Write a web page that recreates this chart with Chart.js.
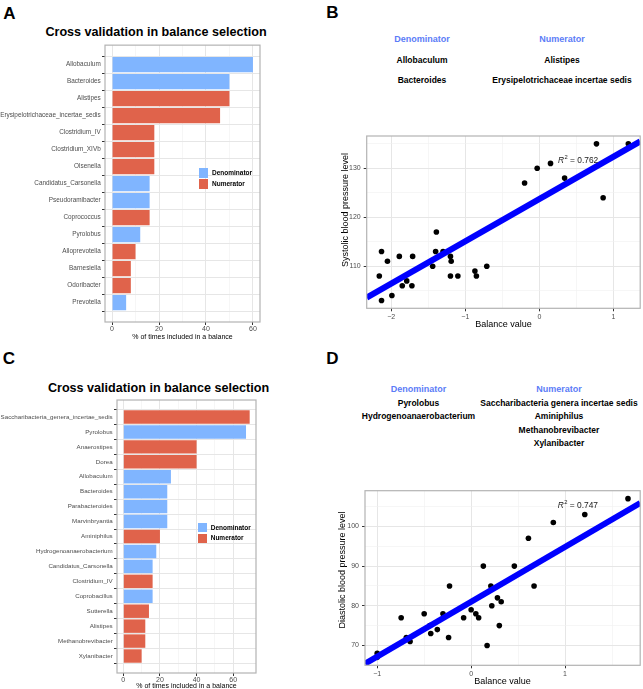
<!DOCTYPE html>
<html>
<head>
<meta charset="utf-8">
<script src="https://cdn.jsdelivr.net/npm/chart.js@4.4.1/dist/chart.umd.min.js"></script>
<style>
  html, body { margin: 0; padding: 0; background: #fff; }
  body { position: relative; width: 643px; height: 689px; overflow: hidden;
         font-family: 'Liberation Sans', Arial, Helvetica, sans-serif; color: #000; }
  canvas { position: absolute; }
  .t { position: absolute; transform: translate(-50%, -50%); white-space: nowrap; line-height: 1; }
  .l { position: absolute; transform: translate(0, -50%); white-space: nowrap; line-height: 1; }
  .key { position: absolute; width: 9.4px; height: 9.4px; }
</style>
</head>
<body>
<canvas id="chartA" width="270" height="302" style="left:0;top:40px"></canvas>
<canvas id="chartB" width="313" height="206" style="left:330px;top:125px"></canvas>
<canvas id="chartC" width="270" height="298" style="left:0;top:395px"></canvas>
<canvas id="chartD" width="313" height="208" style="left:330px;top:480px"></canvas>

<script>
// ---- panel A: cross validation, systolic model ----
const generaA = ['Allobaculum', 'Bacteroides', 'Alistipes', 'Erysipelotrichaceae_incertae_sedis',
  'Clostridium_IV', 'Clostridium_XIVb', 'Olsenella', 'Candidatus_Carsonella', 'Pseudoramibacter',
  'Coprococcus', 'Pyrolobus', 'Alloprevotella', 'Barnesiella', 'Odoribacter', 'Prevotella'];
const pctA = [60, 50, 50, 46, 18, 18, 18, 16, 16, 16, 12, 10, 8, 8, 6];
const sideA = ['D', 'D', 'N', 'N', 'N', 'N', 'N', 'D', 'D', 'N', 'D', 'N', 'N', 'N', 'D'];

// ---- panel C: cross validation, diastolic model ----
const generaC = ['Saccharibacteria_genera_incertae_sedis', 'Pyrolobus', 'Anaerostipes', 'Dorea',
  'Allobaculum', 'Bacteroides', 'Parabacteroides', 'Marvinbryantia', 'Aminiphilus',
  'Hydrogenoanaerobacterium', 'Candidatus_Carsonella', 'Clostridium_IV', 'Coprobacillus',
  'Sutterella', 'Alistipes', 'Methanobrevibacter', 'Xylanibacter'];
const pctC = [69, 67, 40, 40, 26, 24, 24, 24, 20, 18, 16, 16, 16, 14, 12, 12, 10];
const sideC = ['N', 'D', 'N', 'N', 'D', 'D', 'D', 'D', 'N', 'D', 'D', 'N', 'D', 'N', 'N', 'N', 'N'];

const pctMajor = [0, 20, 40, 60];
const pctMinor = [10, 30, 50];

// ---- panel B: balance vs systolic pressure ----
const balanceB = [-2.16, -2.13, -2.13, -2.05, -1.99, -1.89, -1.85, -1.79, -1.72, -1.71, -1.44, -1.39,
  -1.40, -1.30, -1.20, -1.19, -1.20, -1.10, -0.87, -0.85, -0.71, -0.20, -0.03, 0.15, 0.34, 0.77, 0.86, 1.20];
const sbpB = [108, 113, 103, 111, 104, 112, 106, 107, 106, 112, 110, 117,
  113, 113, 112, 111, 108, 108, 109, 108, 110, 127, 130, 131, 128, 135, 124, 135];
const fitXB = [-2.33, 1.36];
const fitYB = [103.6, 135.5];
const xTicksB = [-2, -1.5, -1, -0.5, 0, 0.5, 1];
const xMajorB = [-2, -1, 0, 1];
const yTicksB = [105, 110, 115, 120, 125, 130, 135];
const yMajorB = [110, 120, 130];
const denomB = ['Allobaculum', 'Bacteroides'];
const numerB = ['Alistipes', 'Erysipelotrichaceae incertae sedis'];

// ---- panel D: balance vs diastolic pressure ----
const balanceD = [-1.0, -1.0, -0.745, -0.69, -0.65, -0.50, -0.44, -0.43, -0.36, -0.30, -0.24, -0.23,
  -0.08, 0.0, 0.05, 0.08, 0.13, 0.17, 0.21, 0.22, 0.28, 0.30, 0.32, 0.46, 0.61, 0.67, 0.875, 1.21, 1.67];
const dbpD = [68, 67, 77, 72, 71, 78, 75, 73, 74, 78, 72, 85,
  77, 79, 78, 77, 90, 70, 85, 80, 82, 75, 81, 90, 97, 85, 101, 103, 107];
const fitXD = [-1.13, 1.80];
const fitYD = [65.4, 105.9];
const xTicksD = [-1, -0.5, 0, 0.5, 1, 1.5];
const xMajorD = [-1, 0, 1];
const yTicksD = [65, 70, 75, 80, 85, 90, 95, 100, 105];
const yMajorD = [70, 80, 90, 100];
const denomD = ['Pyrolobus', 'Hydrogenoanaerobacterium'];
const numerD = ['Saccharibacteria genera incertae sedis', 'Aminiphilus', 'Methanobrevibacter', 'Xylanibacter'];

const BLUE = '#80B5FF';
const RED = '#E0634B';
const HEAD = '#5B7CF7';
const GRID = '#E6E6E6';
const MINOR = '#F0F0F0';
const TICK = '#4D4D4D';
const FRAME = '#B3B3B3';
const FONT = "'Liberation Sans', Arial, Helvetica, sans-serif";

Chart.defaults.font.family = FONT;
Chart.defaults.animation = false;

// grey panel border like theme_bw
Chart.register({
  id: 'frame',
  afterDraw(chart) {
    const { ctx, chartArea: a } = chart;
    ctx.save();
    ctx.strokeStyle = FRAME;
    ctx.lineWidth = 1.2;
    ctx.strokeRect(a.left, a.top, a.right - a.left, a.bottom - a.top);
    ctx.restore();
  }
});

const minus = v => (v < 0 ? '\u2212' + Math.abs(v) : String(v));

function barChart(id, names, pct, side, pad, yWidth, titlePad, labelSize) {
  const top = Math.max(...pct);
  return new Chart(document.getElementById(id), {
    type: 'bar',
    data: {
      datasets: [{
        data: pct.map((v, i) => ({ x: v, y: i })),
        backgroundColor: side.map(s => (s === 'D' ? BLUE : RED)),
        borderWidth: 0,
        barPercentage: 0.9,
        categoryPercentage: 1
      }]
    },
    options: {
      indexAxis: 'y',
      responsive: false,
      devicePixelRatio: 1,
      layout: { padding: pad },
      plugins: { legend: { display: false }, tooltip: { enabled: false } },
      scales: {
        x: {
          type: 'linear', min: -top * 0.05, max: top * 1.05,
          afterBuildTicks: s => { s.ticks = pctMajor.concat(pctMinor).sort((a, b) => a - b).map(v => ({ value: v })); },
          afterFit: s => { s.height = 20; },
          ticks: { callback: v => (pctMajor.includes(v) ? String(v) : ''), color: TICK,
                   font: { size: 7 }, padding: 0, maxRotation: 0, autoSkip: false },
          grid: {
            color: c => (pctMajor.includes(c.tick.value) ? GRID : MINOR),
            lineWidth: c => (pctMajor.includes(c.tick.value) ? 1 : 0.6),
            tickLength: 3,
            tickColor: c => (pctMajor.includes(c.tick.value) ? '#333' : 'rgba(0,0,0,0)')
          },
          border: { display: false },
          title: { display: true, text: '% of times included in a balance', color: '#000',
                   font: { size: 7 }, padding: { top: 0, bottom: titlePad } }
        },
        y: {
          type: 'linear', reverse: true, min: -0.6, max: names.length - 0.4,
          afterBuildTicks: s => { s.ticks = names.map((n, i) => ({ value: i })); },
          afterFit: s => { s.width = yWidth; },
          ticks: { callback: v => names[v], color: TICK, font: { size: labelSize }, padding: 1.3, autoSkip: false },
          grid: { color: GRID, lineWidth: 1, tickLength: 3, tickColor: '#333' },
          border: { display: false }
        }
      }
    }
  });
}

function scatterChart(id, cfg) {
  const r2 = cfg.r2;
  return new Chart(document.getElementById(id), {
    type: 'scatter',
    data: {
      datasets: [
        {
          data: cfg.fitX.map((x, i) => ({ x, y: cfg.fitY[i] })),
          showLine: true, borderColor: '#0000FF', borderWidth: 6,
          pointRadius: 0, pointHoverRadius: 0
        },
        {
          data: cfg.xs.map((x, i) => ({ x, y: cfg.ys[i] })),
          pointRadius: 2.8, pointHoverRadius: 2.8,
          pointBackgroundColor: '#000', pointBorderWidth: 0
        }
      ]
    },
    options: {
      responsive: false,
      devicePixelRatio: 1,
      layout: { padding: cfg.pad },
      plugins: { legend: { display: false }, tooltip: { enabled: false } },
      scales: {
        x: {
          type: 'linear', min: cfg.xRange[0], max: cfg.xRange[1],
          afterBuildTicks: s => { s.ticks = cfg.xTicks.map(v => ({ value: v })); },
          afterFit: s => { s.height = cfg.xHeight; },
          ticks: { callback: v => (cfg.xMajor.includes(v) ? minus(v) : ''), color: TICK,
                   font: { size: 7 }, padding: 1.1, maxRotation: 0, autoSkip: false },
          grid: {
            color: c => (cfg.xMajor.includes(c.tick.value) ? GRID : MINOR),
            lineWidth: c => (cfg.xMajor.includes(c.tick.value) ? 1 : 0.6),
            tickLength: 3,
            tickColor: c => (cfg.xMajor.includes(c.tick.value) ? '#333' : 'rgba(0,0,0,0)')
          },
          border: { display: false },
          title: { display: true, text: 'Balance value', color: '#000',
                   font: { size: 9 }, padding: { top: 0, bottom: cfg.titlePad } }
        },
        y: {
          type: 'linear', min: cfg.yRange[0], max: cfg.yRange[1],
          afterBuildTicks: s => { s.ticks = cfg.yTicks.map(v => ({ value: v })); },
          afterFit: s => { s.width = cfg.yWidth; },
          ticks: { callback: v => (cfg.yMajor.includes(v) ? String(v) : ''), color: TICK,
                   font: { size: 7 }, padding: 3, autoSkip: false },
          grid: {
            color: c => (cfg.yMajor.includes(c.tick.value) ? GRID : MINOR),
            lineWidth: c => (cfg.yMajor.includes(c.tick.value) ? 1 : 0.6),
            tickLength: 3,
            tickColor: c => (cfg.yMajor.includes(c.tick.value) ? '#333' : 'rgba(0,0,0,0)')
          },
          border: { display: false }
        }
      }
    },
    plugins: [{
      id: 'r2label',
      afterDatasetsDraw(chart) {
        const { ctx, scales: { x, y } } = chart;
        const px = x.getPixelForValue(r2.x), py = y.getPixelForValue(r2.y);
        ctx.save();
        ctx.fillStyle = '#1a1a1a';
        ctx.textBaseline = 'middle';
        ctx.textAlign = 'left';
        ctx.font = 'italic 8.4px ' + FONT;
        const wR = ctx.measureText('R').width;
        ctx.font = '5.8px ' + FONT;
        const w2 = ctx.measureText('2').width;
        const rest = ' = ' + r2.text;
        ctx.font = '8.4px ' + FONT;
        const wRest = ctx.measureText(rest).width;
        const sx = px - (wR + w2 + wRest) / 2;
        ctx.font = 'italic 8.4px ' + FONT;
        ctx.fillText('R', sx, py);
        ctx.font = '5.8px ' + FONT;
        ctx.fillText('2', sx + wR + 0.4, py - 3.3);
        ctx.font = '8.4px ' + FONT;
        ctx.fillText(rest, sx + wR + w2 + 0.4, py);
        ctx.restore();
      }
    }]
  });
}

barChart('chartA', generaA, pctA, sideA, { left: 0, top: 3, right: 10, bottom: 0 }, 105, 1, 6.4);
barChart('chartC', generaC, pctC, sideC, { left: 0, top: 3, right: 14, bottom: 0 }, 117, 2.8, 6.2);

scatterChart('chartB', {
  xs: balanceB, ys: sbpB, fitX: fitXB, fitY: fitYB,
  xRange: [-2.33, 1.36], yRange: [101.4, 136.6],
  xTicks: xTicksB, xMajor: xMajorB, yTicks: yTicksB, yMajor: yMajorB,
  pad: { left: 0, top: 11, right: 2, bottom: 0 }, yWidth: 36.7, xHeight: 22.7, titlePad: 0.6,
  r2: { x: 0.52, y: 131.5, text: '0.762' }
});
scatterChart('chartD', {
  xs: balanceD, ys: dbpD, fitX: fitXD, fitY: fitYD,
  xRange: [-1.13, 1.80], yRange: [65, 109],
  xTicks: xTicksD, xMajor: xMajorD, yTicks: yTicksD, yMajor: yMajorD,
  pad: { left: 0, top: 10.7, right: 1.3, bottom: 0 }, yWidth: 35, xHeight: 22.7, titlePad: 0.9,
  r2: { x: 1.135, y: 105.3, text: '0.747' }
});

// ---- text around the plots ----
function put(cls, x, y, text, css) {
  const d = document.createElement('div');
  d.className = cls;
  d.style.left = x + 'px';
  d.style.top = y + 'px';
  d.textContent = text;
  Object.assign(d.style, css || {});
  document.body.appendChild(d);
  return d;
}
const bold = size => ({ fontWeight: 'bold', fontSize: size + 'px' });

put('t', 9.5, 12.5, 'A', bold(17));
put('t', 332.5, 11.7, 'B', bold(17));
put('t', 8.8, 357.5, 'C', bold(17));
put('t', 332.5, 357.5, 'D', bold(17));

put('t', 156, 31.5, 'Cross validation in balance selection', bold(12.6));
put('t', 158.5, 387.5, 'Cross validation in balance selection', bold(12.6));

// legends inside the bar panels
function legend(x, y) {
  [['Denominator', BLUE], ['Numerator', RED]].forEach(([name, col], i) => {
    const k = document.createElement('div');
    k.className = 'key';
    k.style.left = x + 'px';
    k.style.top = (y + i * 10.9) + 'px';
    k.style.background = col;
    document.body.appendChild(k);
    put('l', x + 13, y + 4.8 + i * 10.6, name, bold(6.5));
  });
}
legend(199, 168.3);
legend(197.7, 522.8);

// balance members above the scatter panels
function members(headY, rowYs, denX, numX, den, num) {
  put('t', denX, headY, 'Denominator', Object.assign(bold(9), { color: HEAD }));
  put('t', numX, headY, 'Numerator', Object.assign(bold(9), { color: HEAD }));
  den.forEach((n, i) => put('t', denX, rowYs[i], n, bold(8.5)));
  num.forEach((n, i) => put('t', numX, rowYs[i], n, bold(8.5)));
}
members(39, [59.5, 79.5], 422, 562, denomB, numerB);
members(389.3, [402.7, 416.3, 429.8, 443.3], 418.5, 559, denomD, numerD);

put('t', 345, 209.5, 'Systolic blood pressure level', { fontSize: '9px', transform: 'translate(-50%,-50%) rotate(-90deg)' });
put('t', 341.7, 570, 'Diastolic blood pressure level', { fontSize: '9px', transform: 'translate(-50%,-50%) rotate(-90deg)' });
</script>
</body>
</html>
